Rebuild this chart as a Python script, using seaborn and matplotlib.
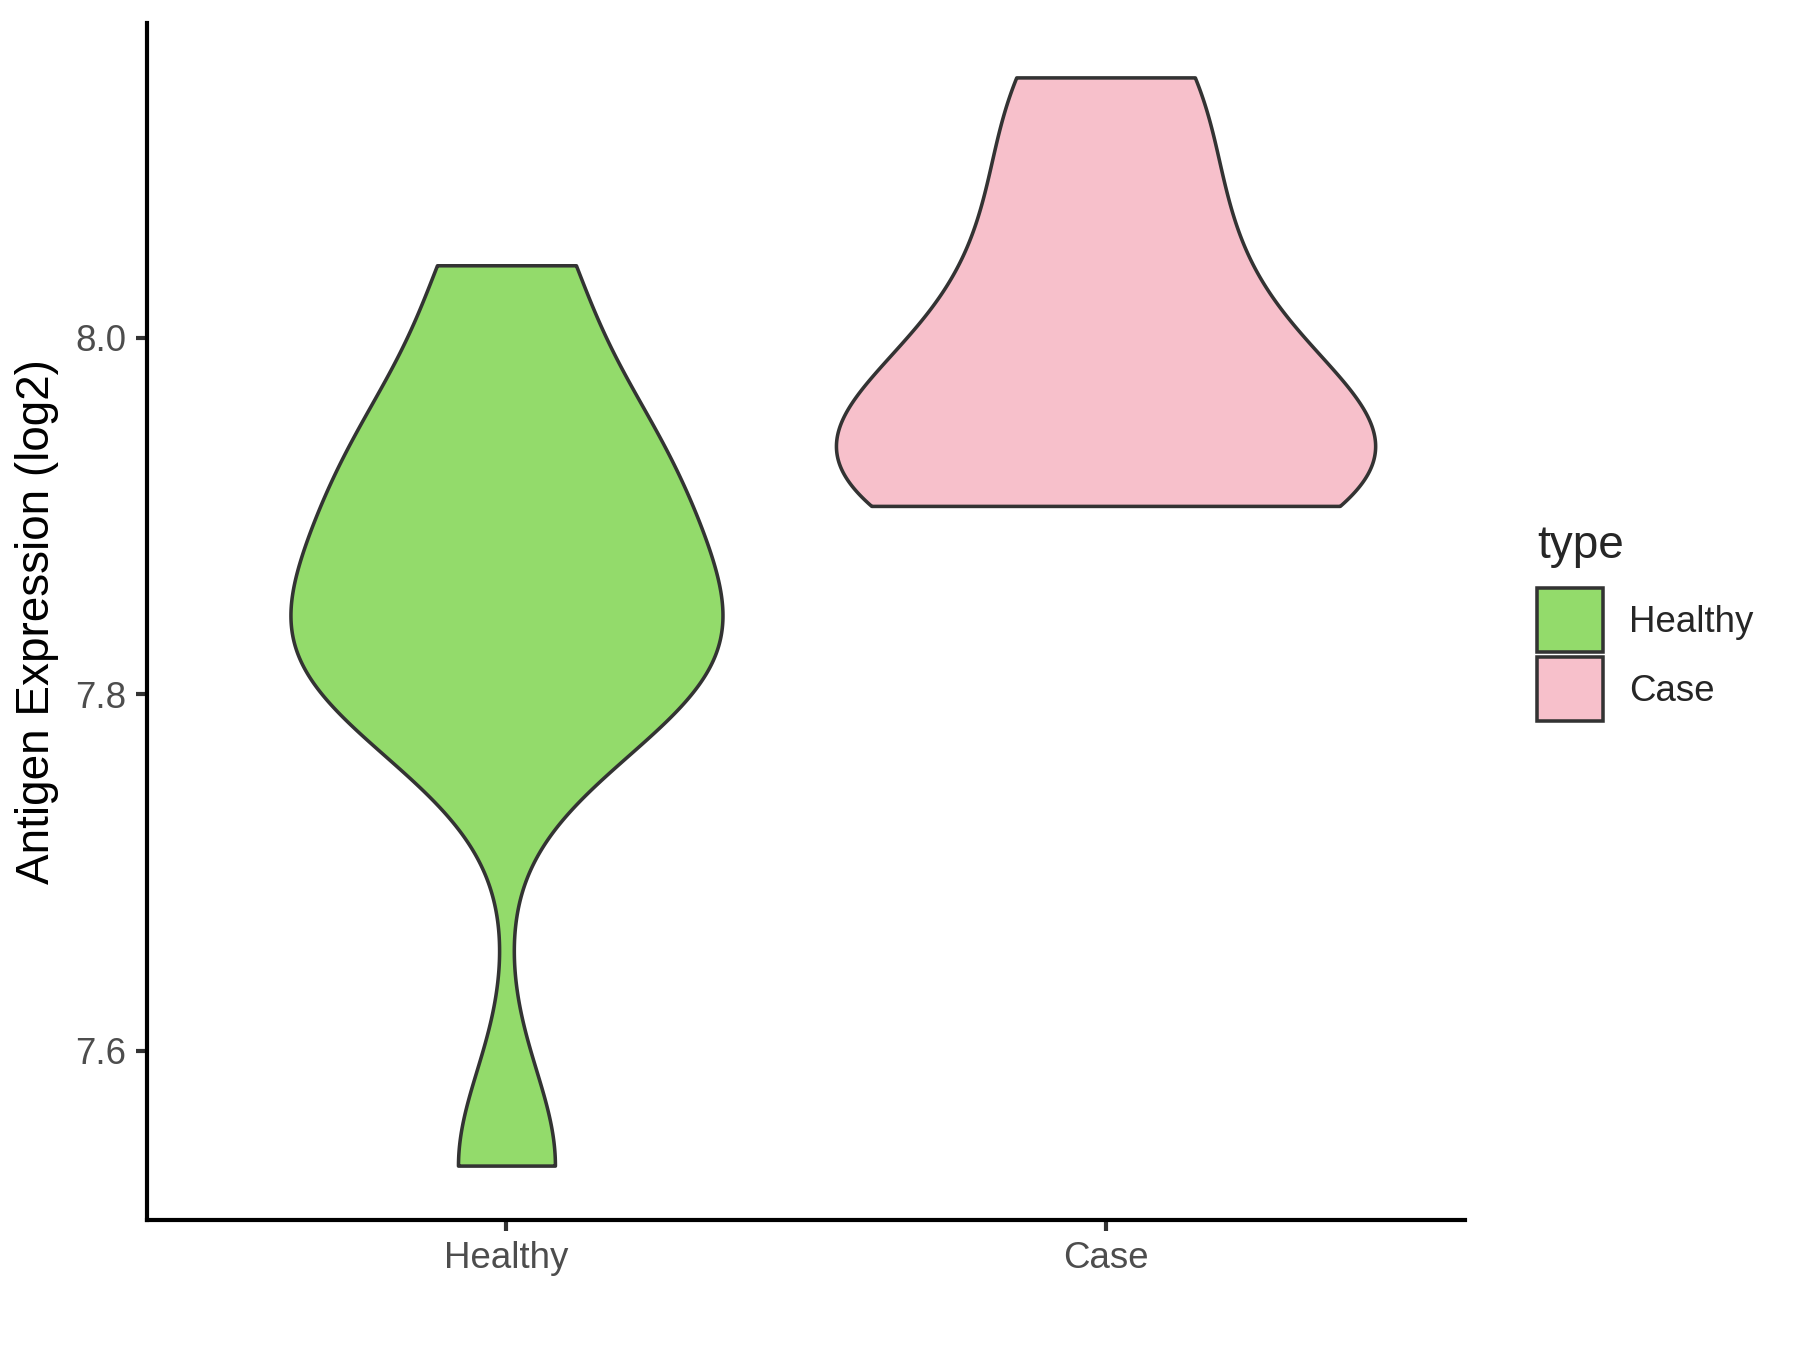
import numpy as np
import pandas as pd
import matplotlib
matplotlib.use("Agg")
import matplotlib.pyplot as plt
from matplotlib.patches import Patch
import seaborn as sns

# ---- data ----
categories = ["Healthy", "Case"]
healthy_values = [7.5355, 7.795, 7.805, 7.825, 7.855, 7.89, 7.93, 7.955, 8.0406]
case_values = [7.9056, 7.915, 7.935, 7.96, 8.005, 8.07, 8.146]
fill_colors = ["#93DB6B", "#F7C0CB"]
y_ticks = [7.6, 7.8, 8.0]
y_label = "Antigen Expression (log2)"
legend_title = "type"

df = pd.DataFrame({
    "type": ["Healthy"] * len(healthy_values) + ["Case"] * len(case_values),
    "value": healthy_values + case_values,
})


def nrd0_factor(kde):
    """R's bw.nrd0 bandwidth expressed as a factor of the sample sd."""
    x = np.asarray(kde.dataset).ravel()
    sd = x.std(ddof=1)
    q75, q25 = np.percentile(x, [75, 25])
    lo = min(sd, (q75 - q25) / 1.34)
    h = 0.9 * lo * len(x) ** (-0.2)
    return h / sd


sns.set_style("ticks")
plt.rcParams["font.family"] = ["Liberation Sans", "DejaVu Sans"]

fig = plt.figure(figsize=(6, 4.5), dpi=300)
ax = fig.add_axes([147 / 1800, 1 - 1220 / 1350, (1465 - 147) / 1800, (1220 - 23) / 1350])

sns.violinplot(
    data=df, x="type", y="value", hue="type",
    order=categories, hue_order=categories,
    palette=dict(zip(categories, fill_colors)),
    cut=0, density_norm="area", common_norm=True, width=0.9, inner=None,
    linewidth=0.85, linecolor="#333333", saturation=1,
    bw_method=nrd0_factor, gridsize=512, dodge=False,
    legend=False, ax=ax,
)

all_vals = np.array(healthy_values + case_values)
lo, hi = all_vals.min(), all_vals.max()
pad = 0.05 * (hi - lo)
ax.set_ylim(lo - pad, hi + pad)
ax.set_xlim(-0.6, len(categories) - 1 + 0.6)
ax.set_yticks(y_ticks)
ax.set_yticklabels([f"{t:.1f}" for t in y_ticks])

for side in ["top", "right"]:
    ax.spines[side].set_visible(False)
for side in ["left", "bottom"]:
    ax.spines[side].set_linewidth(1.0)
    ax.spines[side].set_color("black")

ax.tick_params(axis="both", length=2.75, width=1.0, color="#333333",
               labelsize=8.8, labelcolor="#4D4D4D", pad=2.2)
ax.set_xlabel("")
ax.set_ylabel(y_label, fontsize=11, color="black", labelpad=4)
ax.set_facecolor("white")

handles = [Patch(facecolor=c, edgecolor="#333333", linewidth=0.85, label=l)
           for l, c in zip(categories, fill_colors)]
leg = fig.legend(handles=handles, title=legend_title, loc="upper left",
                 bbox_to_anchor=(1537 / 1800, 1 - 524 / 1350), frameon=False,
                 fontsize=8.8, title_fontsize=11, handlelength=1.8,
                 handleheight=2.3, labelspacing=0.14, handletextpad=0.7,
                 borderpad=0, borderaxespad=0, alignment="left")
leg._legend_box.sep = 4.9

fig.savefig("out.png", dpi=300, facecolor="white")
